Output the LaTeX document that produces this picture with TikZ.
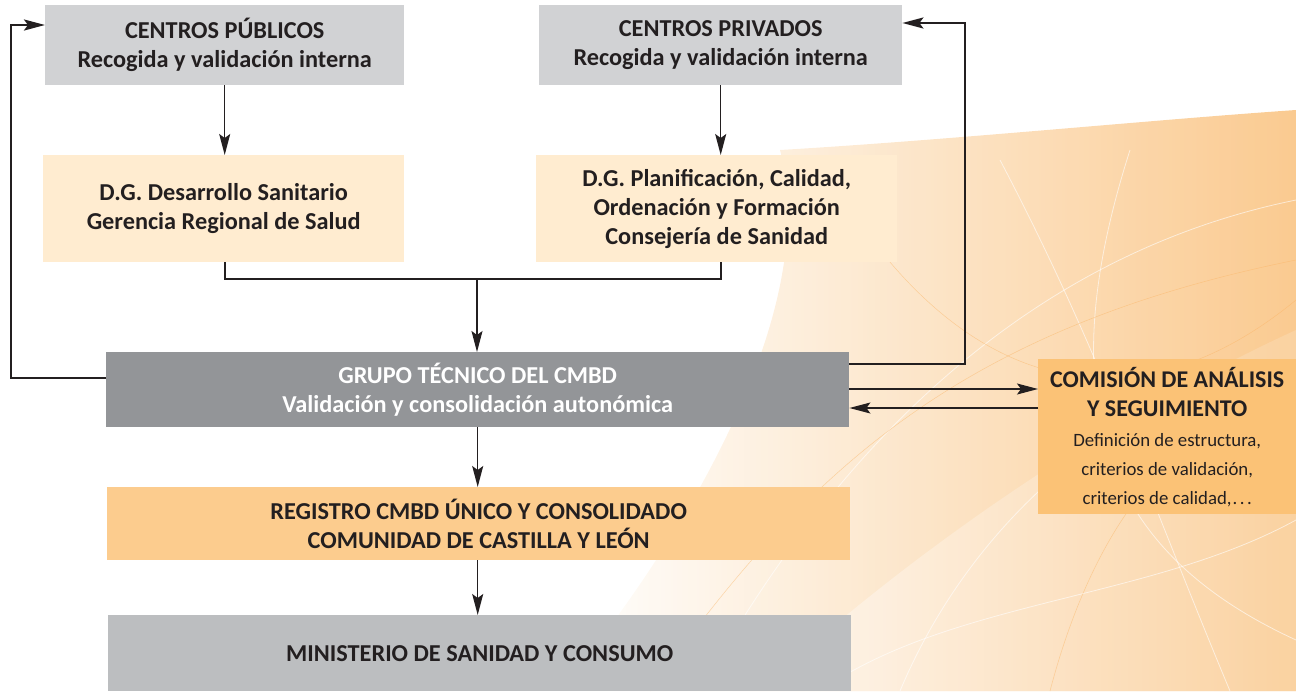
\documentclass[tikz,border=0pt]{standalone}
\usepackage{fontspec}
\setmainfont{Carlito}
\usetikzlibrary{arrows.meta,calc}
\definecolor{lgray}{RGB}{209,210,212}
\definecolor{cream}{RGB}{255,236,208}
\definecolor{dgray}{RGB}{147,149,152}
\definecolor{regor}{RGB}{252,204,142}
\definecolor{comor}{RGB}{251,194,118}
\definecolor{mgray}{RGB}{188,190,192}
\definecolor{txt}{RGB}{35,31,32}
\definecolor{bgor}{RGB}{249,193,125}
\newcommand\combig{\bfseries\fontsize{24}{27}\selectfont}
\newcommand\comsmall{\mdseries\fontsize{18.8}{26.5}\selectfont}
\begin{document}
\begin{tikzpicture}[x=1pt,y=-1pt,
  box/.style={anchor=north west, inner sep=0pt, align=center, text=txt,
    font=\bfseries\fontsize{24.3}{29}\selectfont},
  tipA/.style={-{Stealth[length=21pt,width=11pt,inset=4pt]}},
  down/.style={tipA, line width=1.3pt, draw=txt},
  loopln/.style={tipA, line width=2.3pt, draw=txt},
  side/.style={tipA, line width=1.3pt, draw=txt},
  brk/.style={line width=2pt, draw=txt}]
\useasboundingbox (0,0) rectangle (1296,691);
% background decoration
\shade[left color=white, right color=bgor, opacity=0.85]
  (560,691) .. controls (700,520) and (820,300) .. (780,150)
  .. controls (950,140) and (1150,120) .. (1296,110) -- (1296,691) -- cycle;
\shade[left color=white, right color=bgor!60, opacity=0.5]
  (760,691) .. controls (900,560) and (1100,420) .. (1296,330) -- (1296,691) -- cycle;
\begin{scope}[draw=white, line width=0.8pt, opacity=0.6]
  \draw (700,691) .. controls (850,420) and (1050,250) .. (1296,200);
  \draw (900,691) .. controls (980,500) and (1150,380) .. (1296,360);
  \draw (1000,160) .. controls (1100,350) and (1150,500) .. (1230,691);
  \draw (1130,150) .. controls (1050,400) and (1100,550) .. (1296,640);
  \draw (820,691) .. controls (950,600) and (1150,600) .. (1296,520);
\end{scope}
\begin{scope}[draw=bgor!80!orange, line width=0.5pt, opacity=0.5]
  \draw (650,691) .. controls (800,480) and (950,330) .. (1296,260);
  \draw (1050,691) .. controls (1100,500) and (1200,400) .. (1296,420);
  \draw (880,250) .. controls (1000,400) and (1150,420) .. (1296,300);
\end{scope}
% nodes
\node[box, fill=lgray, minimum width=359pt, minimum height=80pt] (cp) at (45,5)
  {CENTROS PÚBLICOS\\Recogida y validación interna};
\node[box, fill=lgray, minimum width=363pt, minimum height=80pt] (cpr) at (539,5)
  {CENTROS PRIVADOS\\Recogida y validación interna};
\node[box, fill=cream, minimum width=361pt, minimum height=107pt] (dg1) at (43,155)
  {D.G. Desarrollo Sanitario\\Gerencia Regional de Salud};
\node[box, fill=cream, minimum width=361pt, minimum height=107pt] (dg2) at (536,155)
  {D.G. Planificación, Calidad,\\Ordenación y Formación\\Consejería de Sanidad};
\node[box, fill=dgray, text=white, minimum width=743pt, minimum height=75pt] (gt) at (106,352)
  {GRUPO TÉCNICO DEL CMBD\\Validación y consolidación autonómica};
\node[box, fill=comor, minimum width=258pt, minimum height=155pt] (com) at (1038,359)
  {\combig COMISIÓN DE ANÁLISIS\\\combig Y SEGUIMIENTO\\[1pt]
   \comsmall Definición de estructura,\\\comsmall criterios de validación,\\\comsmall criterios de calidad,\kern1pt.\kern2.5pt.\kern2.5pt.};
\node[box, fill=regor, minimum width=743pt, minimum height=73pt] (reg) at (107,487)
  {REGISTRO CMBD ÚNICO Y CONSOLIDADO\\COMUNIDAD DE CASTILLA Y LEÓN};
\node[box, fill=mgray, minimum width=743pt, minimum height=76pt] (min) at (108,615)
  {MINISTERIO DE SANIDAD Y CONSUMO};
% connectors
\draw[down] (cp.south) -- (cp.south |- dg1.north);
\draw[down] (cpr.south) -- (cpr.south |- dg2.north);
\coordinate (j) at (477,279);
\draw[brk] (225,262) |- (j) -| (721,262);
\draw[down] (j) -- (j |- gt.north);
\draw[down] (gt.south) -- (gt.south |- reg.north);
\draw[down] (gt.south |- reg.south) -- (gt.south |- min.north);
\coordinate (ll) at (11,25);
\draw[loopln] (gt.west |- 0,378) -| (ll) -- (cp.west |- ll);
\coordinate (rl) at (965,23);
\draw[loopln] (gt.east |- 0,364) -| (rl) -- (cpr.east |- rl);
\draw[side] (gt.east |- 0,389) -- (com.west |- 0,389);
\draw[side] (com.west |- 0,408) -- (gt.east |- 0,408);
\end{tikzpicture}
\end{document}
